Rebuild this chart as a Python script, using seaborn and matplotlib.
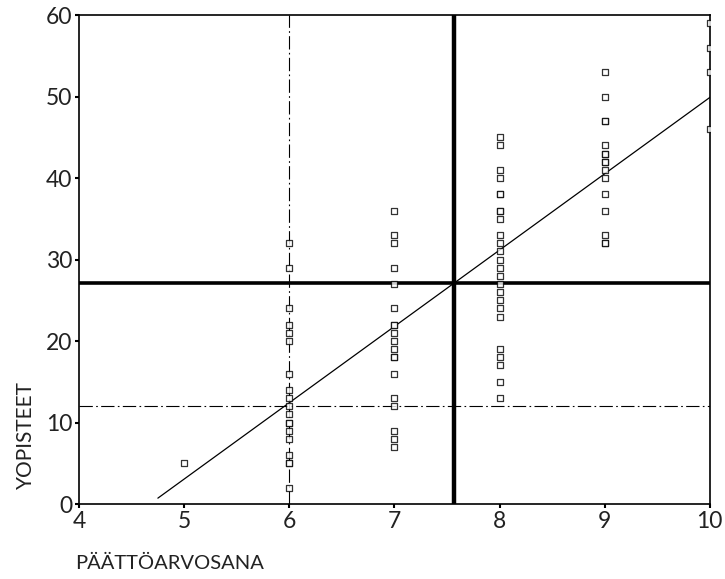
import numpy as np
import pandas as pd
import matplotlib
matplotlib.use("Agg")
import matplotlib.pyplot as plt
import seaborn as sns

# Points per final grade (päättöarvosana) and university entrance points (yopisteet)
grade_5 = [5]
grade_6 = [32, 29, 24, 22, 21, 20, 16, 14, 13, 12, 11, 10, 10, 9, 8, 6, 5, 5, 2]
grade_7 = [36, 33, 32, 29, 27, 24, 22, 22, 21, 20, 19, 18, 18, 16, 13, 12, 9, 8, 7]
grade_8 = [45, 44, 41, 40, 38, 38, 36, 36, 35, 33, 32, 31, 30, 29, 28, 27, 26,
           25, 24, 23, 19, 18, 17, 15, 13]
grade_9 = [53, 50, 47, 47, 44, 43, 43, 42, 42, 41, 40, 38, 36, 33, 32, 32]
grade_10 = [59, 56, 53, 46]

# Reference cut-offs
ref_grade = 6
ref_points = 12

x_ticks = [4, 5, 6, 7, 8, 9, 10]
y_ticks = [0, 10, 20, 30, 40, 50, 60]

groups = {5: grade_5, 6: grade_6, 7: grade_7, 8: grade_8, 9: grade_9, 10: grade_10}
df = pd.DataFrame(
    [(g, v) for g, vals in groups.items() for v in vals],
    columns=["PÄÄTTÖARVOSANA", "YOPISTEET"],
)

sns.set_theme(style="white")
plt.rcParams["font.family"] = ["Lato", "DejaVu Sans"]

fig = plt.figure(figsize=(7.25, 5.79), dpi=100)
ax = fig.add_axes([0.109, 0.1295, 0.870, 0.8445])

sns.regplot(
    data=df, x="PÄÄTTÖARVOSANA", y="YOPISTEET", ax=ax, ci=None, truncate=False,
    marker="s",
    scatter_kws=dict(s=22, facecolors="white", edgecolors="black", linewidths=0.9, zorder=4),
    line_kws=dict(color="black", lw=0.9, zorder=3),
)

# Means of both variables
ax.axvline(df["PÄÄTTÖARVOSANA"].mean(), color="black", lw=3.2, zorder=2)
ax.axhline(df["YOPISTEET"].mean(), color="black", lw=2.6, zorder=2)

# Reference cut-offs
ax.axvline(ref_grade, color="black", lw=0.8, dashes=(12, 3, 1.5, 3), zorder=1)
ax.axhline(ref_points, color="black", lw=0.8, dashes=(12, 3, 1.5, 3), zorder=1)

ax.set_xlim(4, 10)
ax.set_ylim(0, 60)
ax.set_xticks(x_ticks)
ax.set_yticks(y_ticks)
ax.tick_params(axis="both", which="both", length=3, width=1.5, direction="out",
               labelsize=16.5, color="black", labelcolor="#222222", pad=2,
               bottom=True, left=True)
for sp in ax.spines.values():
    sp.set_color("black")
    sp.set_linewidth(1.2)
ax.set_xlabel("")
ax.set_ylabel("")

fig.text(0.103, 0.012, "PÄÄTTÖARVOSANA", fontsize=14.5, color="#222222",
         ha="left", va="bottom")
fig.text(0.022, 0.155, "YOPISTEET", fontsize=15, color="#222222",
         rotation=90, ha="left", va="bottom")

fig.savefig("out.png", dpi=100, facecolor="white")
